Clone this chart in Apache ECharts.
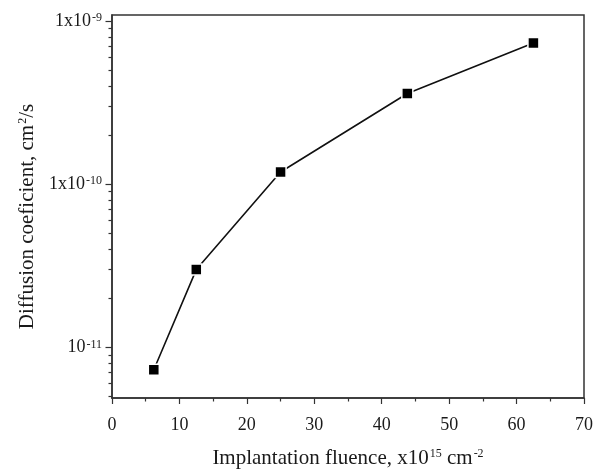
<!DOCTYPE html>
<html>
<head>
<meta charset="utf-8">
<script src="https://cdn.jsdelivr.net/npm/echarts@6/dist/echarts.min.js"></script>
<style>
html,body{margin:0;padding:0;background:#fff;}
#chart{width:601px;height:474px;}
</style>
</head>
<body>
<div id="chart"></div>
<script>
// ---- data ----
const fluence = [6.2, 12.5, 25.0, 43.8, 62.5];               // x10^15 cm^-2
const diffusion = [7.3e-12, 3.0e-11, 1.19e-10, 3.6e-10, 7.35e-10]; // cm^2/s
const xTicks = [0, 10, 20, 30, 40, 50, 60, 70];
const yMajorTicks = [1e-11, 1e-10, 1e-9];
const yMajorLabels = ['10{sup|-11}', '1x10{sup|-10}', '1x10{sup|-9}'];
const yMinorTicks = [5e-12, 6e-12, 7e-12, 8e-12, 9e-12,
  2e-11, 3e-11, 4e-11, 5e-11, 6e-11, 7e-11, 8e-11, 9e-11,
  2e-10, 3e-10, 4e-10, 5e-10, 6e-10, 7e-10, 8e-10, 9e-10];

const FONT = 'Liberation Serif';
const TXT = '#1a1a1a';
const AX = '#333';
const supStyle = { fontSize: 12, fontFamily: FONT, color: TXT, verticalAlign: 'top', padding: [0, 0, 0, 1] };

const chart = echarts.init(document.getElementById('chart'));
const yMin = 4.9e-12, yMax = 1.09e-9;
const grid = { left: 112, right: 17, top: 15, bottom: 74, show: true, borderColor: AX, borderWidth: 1.5, backgroundColor: 'transparent' };

chart.setOption({
  animation: false,
  backgroundColor: '#fff',
  grid: grid,
  xAxis: {
    type: 'value', min: 0, max: 70, interval: 10,
    axisLine: { show: true, lineStyle: { color: AX, width: 1.5 } },
    axisTick: { show: true, length: 6, lineStyle: { color: AX, width: 1.2 } },
    minorTick: { show: true, splitNumber: 2, length: 3.5, lineStyle: { color: AX, width: 1.2 } },
    splitLine: { show: false },
    axisLabel: {
      customValues: xTicks, margin: 18,
      fontFamily: FONT, fontSize: 18, color: TXT
    },
    name: 'Implantation fluence, x10{sup|15} cm{sup|-2}',
    nameLocation: 'middle', nameGap: 50,
    nameTextStyle: { fontFamily: FONT, fontSize: 21, color: TXT, rich: { sup: supStyle } }
  },
  yAxis: [{
    type: 'log', min: yMin, max: yMax,
    axisLine: { show: true, lineStyle: { color: AX, width: 1.5 } },
    axisTick: { show: true, customValues: yMajorTicks, length: 6.5, lineStyle: { color: AX, width: 1.2 } },
    splitLine: { show: false },
    axisLabel: {
      customValues: yMajorTicks, margin: 10,
      fontFamily: FONT, fontSize: 18, color: TXT,
      formatter: function (v) {
        const i = yMajorTicks.findIndex(t => Math.abs(Math.log10(t) - Math.log10(v)) < 1e-6);
        return i >= 0 ? yMajorLabels[i] : '';
      },
      rich: { sup: supStyle }
    },
    name: 'Diffusion coeficient, cm{sup|2}/s',
    nameLocation: 'middle', nameGap: 62, nameRotate: 90,
    nameTextStyle: { fontFamily: FONT, fontSize: 21, color: TXT, padding: [0, 20, 0, 0], rich: { sup: supStyle } }
  }, {
    type: 'log', min: yMin, max: yMax, position: 'left',
    axisLine: { show: false },
    axisTick: { show: true, customValues: yMinorTicks, length: 3.5, lineStyle: { color: AX, width: 1.2 } },
    axisLabel: { show: false },
    splitLine: { show: false }
  }],
  series: [{
    type: 'line',
    data: fluence.map((x, i) => [x, diffusion[i]]),
    symbol: 'rect', symbolSize: 11,
    lineStyle: { color: '#111', width: 1.6 },
    itemStyle: { color: '#000', borderColor: '#fff', borderWidth: 1.5 },
    z: 3
  }]
});
</script>
</body>
</html>
